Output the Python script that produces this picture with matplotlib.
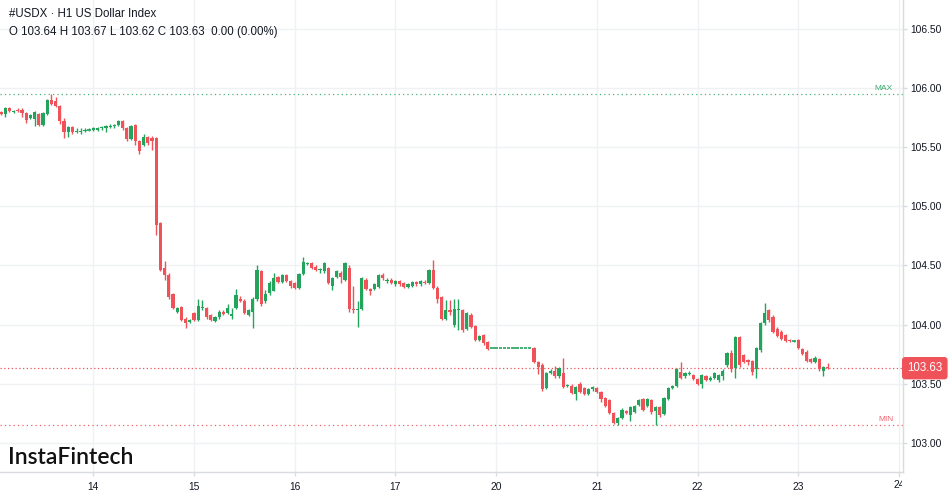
import matplotlib
matplotlib.use("Agg")
import matplotlib.pyplot as plt
from matplotlib.transforms import Bbox, TransformedBbox, blended_transform_factory

# hourly candles, #USDX H1 (13 Mar 02:00 .. 23 Mar 07:00)
opens = [
    105.80, 105.78, 105.83, 105.80, 105.82, 105.82, 105.79, 105.75, 105.74, 105.78, 105.69, 105.78,
    105.90, 105.89, 105.85, 105.72, 105.63, 105.67, 105.63, 105.63, 105.64, 105.65,
    105.65, 105.65, 105.66, 105.66, 105.67, 105.68, 105.69, 105.72, 105.66, 105.57, 105.69, 105.55,
    105.52, 105.59, 105.58, 105.58, 104.86, 104.48, 104.42, 104.26, 104.11, 104.15, 104.05, 104.02,
    104.10, 104.04, 104.14, 104.14, 104.08, 104.03, 104.06, 104.11, 104.10, 104.07, 104.14, 104.22,
    104.20, 104.08, 104.11, 104.22, 104.45, 104.20, 104.27, 104.28, 104.40, 104.36, 104.42, 104.37,
    104.35, 104.31, 104.43, 104.51, 104.52, 104.49, 104.46, 104.45, 104.48, 104.33, 104.40, 104.44,
    104.38, 104.48, 104.13, 104.12, 104.13, 104.38, 104.30, 104.30, 104.32, 104.42, 104.37, 104.38,
    104.34, 104.37, 104.35, 104.32, 104.33, 104.36, 104.34, 104.36, 104.35, 104.46, 104.31, 104.23,
    104.05, 104.12, 104.00, 104.12, 104.12, 103.96, 104.08, 103.99, 103.87, 103.91, 103.85, 103.80,
    103.80, 103.80, 103.80, 103.80, 103.80, 103.80, 103.80, 103.80, 103.80, 103.80, 103.68, 103.66,
    103.46, 103.59, 103.61, 103.56, 103.59, 103.48, 103.48, 103.41, 103.50, 103.46, 103.41, 103.45,
    103.46, 103.43, 103.38, 103.36, 103.25, 103.17, 103.21, 103.27, 103.23, 103.26, 103.32, 103.37,
    103.31, 103.36, 103.27, 103.30, 103.24, 103.37, 103.46, 103.48, 103.60, 103.56, 103.58, 103.57,
    103.54, 103.50, 103.56, 103.53, 103.55, 103.53, 103.56, 103.66, 103.76, 103.63, 103.89, 103.74,
    103.70, 103.69, 103.62, 103.78, 104.01, 104.12, 104.06, 103.96, 103.94, 103.91, 103.87, 103.86,
    103.87, 103.79, 103.77, 103.71, 103.68, 103.71, 103.61, 103.64,
]
highs = [
    105.81, 105.84, 105.84, 105.82, 105.83, 105.83, 105.80, 105.78, 105.81, 105.79, 105.80, 105.91,
    105.95, 105.93, 105.86, 105.75, 105.68, 105.68, 105.66, 105.66, 105.66, 105.66,
    105.67, 105.67, 105.68, 105.69, 105.70, 105.70, 105.73, 105.73, 105.67, 105.69, 105.70, 105.56,
    105.61, 105.60, 105.60, 105.59, 104.87, 104.54, 104.44, 104.27, 104.15, 104.16, 104.06, 104.05,
    104.11, 104.22, 104.21, 104.15, 104.09, 104.07, 104.12, 104.12, 104.17, 104.14, 104.30, 104.24,
    104.22, 104.13, 104.23, 104.50, 104.46, 104.29, 104.37, 104.44, 104.41, 104.43, 104.43, 104.38,
    104.36, 104.44, 104.57, 104.53, 104.53, 104.50, 104.48, 104.53, 104.49, 104.40, 104.46, 104.45,
    104.53, 104.50, 104.33, 104.20, 104.40, 104.39, 104.31, 104.35, 104.43, 104.44, 104.39, 104.39,
    104.38, 104.38, 104.36, 104.35, 104.37, 104.37, 104.38, 104.38, 104.47, 104.55, 104.33, 104.24,
    104.21, 104.21, 104.22, 104.22, 104.13, 104.11, 104.10, 104.00, 103.91, 103.92, 103.86, 103.80,
    103.80, 103.80, 103.80, 103.80, 103.80, 103.80, 103.80, 103.80, 103.80, 103.81, 103.69, 103.67,
    103.60, 103.62, 103.65, 103.64, 103.72, 103.50, 103.50, 103.48, 103.51, 103.47, 103.46, 103.48,
    103.47, 103.44, 103.39, 103.37, 103.26, 103.22, 103.29, 103.28, 103.31, 103.32, 103.37, 103.38,
    103.38, 103.37, 103.31, 103.31, 103.39, 103.47, 103.49, 103.63, 103.68, 103.60, 103.61, 103.58,
    103.55, 103.58, 103.57, 103.56, 103.60, 103.58, 103.62, 103.77, 103.78, 103.90, 103.90, 103.75,
    103.71, 103.70, 103.81, 104.02, 104.18, 104.13, 104.08, 103.98, 103.95, 103.92, 103.88, 103.87,
    103.88, 103.80, 103.78, 103.72, 103.73, 103.72, 103.65, 103.67,
]
lows = [
    105.77, 105.76, 105.80, 105.79, 105.80, 105.76, 105.71, 105.74, 105.68, 105.68, 105.68, 105.77,
    105.86, 105.84, 105.70, 105.58, 105.59, 105.61, 105.62, 105.61, 105.63, 105.64,
    105.64, 105.64, 105.65, 105.63, 105.66, 105.66, 105.68, 105.65, 105.55, 105.56, 105.52, 105.44,
    105.51, 105.52, 105.48, 104.76, 104.45, 104.38, 104.22, 104.13, 104.10, 104.03, 103.97, 104.01,
    104.03, 104.03, 104.12, 104.05, 104.03, 104.02, 104.05, 104.08, 104.09, 104.05, 104.13, 104.19,
    104.09, 104.07, 103.97, 104.20, 104.16, 104.18, 104.25, 104.28, 104.35, 104.35, 104.36, 104.31,
    104.30, 104.30, 104.42, 104.50, 104.47, 104.45, 104.44, 104.44, 104.34, 104.29, 104.39, 104.35,
    104.37, 104.11, 104.10, 103.98, 104.12, 104.29, 104.25, 104.29, 104.31, 104.38, 104.35, 104.34,
    104.33, 104.33, 104.31, 104.31, 104.32, 104.33, 104.33, 104.34, 104.34, 104.30, 104.18, 104.04,
    104.04, 104.08, 103.98, 103.95, 103.94, 103.95, 103.97, 103.86, 103.86, 103.83, 103.78, 103.80,
    103.80, 103.80, 103.80, 103.80, 103.80, 103.80, 103.80, 103.80, 103.80, 103.67, 103.58, 103.44,
    103.45, 103.58, 103.55, 103.55, 103.46, 103.47, 103.41, 103.36, 103.42, 103.40, 103.40, 103.44,
    103.42, 103.34, 103.30, 103.24, 103.16, 103.15, 103.20, 103.24, 103.18, 103.25, 103.31, 103.27,
    103.30, 103.24, 103.15, 103.22, 103.23, 103.36, 103.45, 103.47, 103.54, 103.55, 103.57, 103.53,
    103.49, 103.46, 103.52, 103.52, 103.54, 103.51, 103.53, 103.64, 103.60, 103.55, 103.64, 103.67,
    103.66, 103.57, 103.55, 103.77, 104.00, 104.02, 103.93, 103.89, 103.87, 103.85, 103.85, 103.85,
    103.79, 103.74, 103.68, 103.67, 103.67, 103.61, 103.56, 103.62,
]
closes = [
    105.78, 105.83, 105.81, 105.81, 105.81, 105.79, 105.73, 105.77, 105.80, 105.69, 105.79, 105.90,
    105.87, 105.85, 105.72, 105.63, 105.67, 105.63, 105.64, 105.64, 105.65, 105.65,
    105.66, 105.66, 105.67, 105.68, 105.68, 105.69, 105.72, 105.66, 105.57, 105.68, 105.55, 105.47,
    105.59, 105.54, 105.55, 104.84, 104.46, 104.42, 104.23, 104.14, 104.14, 104.04, 104.01, 104.04,
    104.04, 104.16, 104.15, 104.06, 104.04, 104.06, 104.11, 104.09, 104.14, 104.09, 104.25, 104.20,
    104.10, 104.12, 104.22, 104.46, 104.17, 104.26, 104.35, 104.39, 104.36, 104.42, 104.37, 104.33,
    104.31, 104.43, 104.53, 104.52, 104.48, 104.46, 104.47, 104.52, 104.35, 104.39, 104.45, 104.40,
    104.52, 104.13, 104.12, 104.13, 104.39, 104.30, 104.28, 104.34, 104.42, 104.39, 104.38, 104.35,
    104.37, 104.34, 104.32, 104.34, 104.36, 104.34, 104.37, 104.35, 104.46, 104.31, 104.22, 104.05,
    104.12, 104.11, 104.13, 104.13, 103.95, 104.10, 103.98, 103.87, 103.90, 103.84, 103.79, 103.80,
    103.80, 103.80, 103.80, 103.80, 103.80, 103.80, 103.80, 103.80, 103.80, 103.68, 103.64, 103.45,
    103.59, 103.61, 103.56, 103.63, 103.47, 103.49, 103.42, 103.47, 103.43, 103.41, 103.45, 103.47,
    103.43, 103.37, 103.31, 103.25, 103.17, 103.21, 103.28, 103.25, 103.30, 103.31, 103.36, 103.28,
    103.37, 103.26, 103.30, 103.23, 103.38, 103.46, 103.48, 103.62, 103.55, 103.59, 103.59, 103.54,
    103.50, 103.57, 103.53, 103.55, 103.59, 103.57, 103.61, 103.76, 103.62, 103.89, 103.66, 103.68,
    103.68, 103.60, 103.80, 104.01, 104.10, 104.04, 103.94, 103.90, 103.88, 103.86, 103.86, 103.86,
    103.80, 103.75, 103.69, 103.68, 103.72, 103.62, 103.64, 103.63,
]

day_labels = ['14', '15', '16', '17', '20', '21', '22', '23', '24']
first_day_bar = 22
bars_per_day = 24
ytick_vals = [103.0, 103.5, 104.0, 104.5, 105.0, 105.5, 106.0, 106.5]

UP = '#22a45d'
DOWN = '#f0525a'
GRID = '#eff1f4'
TXT = '#131722'
AXC = '#d8dbe0'

W, H = 949, 494
fig = plt.figure(figsize=(W / 100, H / 100), dpi=100)
fig.patch.set_facecolor('white')
plot_r, plot_b = 903, 472
ax = fig.add_axes([0, 1 - plot_b / H, plot_r / W, plot_b / H])

x = list(range(len(closes)))
up = [c >= o for o, c in zip(opens, closes)]
cols = [UP if u else DOWN for u in up]

# wicks
ax.vlines(x, lows, highs, colors=cols, linewidth=1, zorder=3)
# bodies
bottoms = [min(o, c) for o, c in zip(opens, closes)]
heights = [abs(c - o) for o, c in zip(opens, closes)]
ax.bar(x, heights, bottom=bottoms, width=0.76, color=cols, linewidth=0, zorder=4)
# flat candles as short dashes
flat = [i for i in x if heights[i] < 0.005]
ax.hlines([closes[i] for i in flat], [i - 0.42 for i in flat], [i + 0.42 for i in flat],
          colors=[cols[i] for i in flat], linewidth=1.2, zorder=4)

ax.set_xlim(-0.24, 214.96)
ax.set_ylim(102.751, 106.748)

# grid
xt = [first_day_bar + bars_per_day * i for i in range(len(day_labels))]
for v in ytick_vals:
    ax.axhline(v, color=GRID, lw=1, zorder=0)
for v in xt:
    ax.axvline(v, color=GRID, lw=1, zorder=0)

# max / min / last lines
hi, lo, last = max(highs), min(lows), closes[-1]
ax.axhline(hi, color='#4cb27a', lw=0.9, ls=(0, (1, 2.5)), zorder=2)
ax.axhline(lo, color='#f0606a', lw=0.9, ls=(0, (1, 2.5)), zorder=2)
ax.axhline(last, color='#f0525a', lw=0.9, ls=(0, (1, 2)), zorder=2)
bt = blended_transform_factory(ax.transAxes, ax.transData)
ax.text(0.989, hi + 0.015, 'MAX', transform=bt, ha='right', va='bottom',
        fontsize=6, color='#3aa86b', family='Liberation Sans')
ax.text(0.989, lo + 0.015, 'MIN', transform=bt, ha='right', va='bottom',
        fontsize=6, color='#f0606a', family='Liberation Sans')

# axes styling
for s in ['left', 'top']:
    ax.spines[s].set_visible(False)
for s in ['right', 'bottom']:
    ax.spines[s].set_color(AXC)
    ax.spines[s].set_linewidth(1)
ax.yaxis.tick_right()
ax.set_yticks(ytick_vals)
ax.set_yticklabels([f'{v:.2f}' for v in ytick_vals])
ax.set_xticks(xt[:-1])
ax.set_xticklabels(day_labels[:-1])
ax.tick_params(axis='both', colors=AXC, length=3, width=1, labelcolor=TXT,
               labelsize=7.4, pad=2)
ax.tick_params(axis='x', pad=4)
for lab in ax.get_xticklabels() + ax.get_yticklabels():
    lab.set_family('Liberation Sans')

# last date label sits on the plot edge and gets cut there
bx = blended_transform_factory(ax.transData, ax.transAxes)
ax.plot([xt[-1], xt[-1]], [0, -4 / plot_b], transform=bx, color=AXC, lw=1, clip_on=False)
edge = ax.text(xt[-1], -13 / plot_b, day_labels[-1], transform=bx, ha='center', va='center',
               fontsize=7.4, color=TXT, family='Liberation Sans', clip_on=True)
edge.set_clip_box(TransformedBbox(Bbox([[0, 0], [(plot_r - 1) / W, 1]]), fig.transFigure))

# last price tag
ax.annotate(f'{last:.2f}', xy=(1.0, last), xycoords=bt, xytext=(3, 0),
            textcoords='offset points', ha='left', va='center', fontsize=8.3,
            color='white', family='Liberation Sans', annotation_clip=False,
            bbox=dict(boxstyle='round,pad=0.45,rounding_size=0.3', fc='#f0525a', ec='none'))

# header
fig.text(9 / W, 1 - 14 / H, '#USDX \u00b7 H1 US Dollar Index', fontsize=8.3, color=TXT,
         va='center', family='Liberation Sans')
fig.text(9 / W, 1 - 32 / H, 'O 103.64 H 103.67 L 103.62 C 103.63  0.00 (0.00%)', fontsize=8.3,
         color=TXT, va='center', family='Liberation Sans')
fig.text(8 / W, 1 - 457 / H, 'InstaFintech', fontsize=16.5, color='#111111', va='center',
         family='Lato', fontweight='semibold')

fig.savefig('out.png', dpi=100, facecolor='white')
